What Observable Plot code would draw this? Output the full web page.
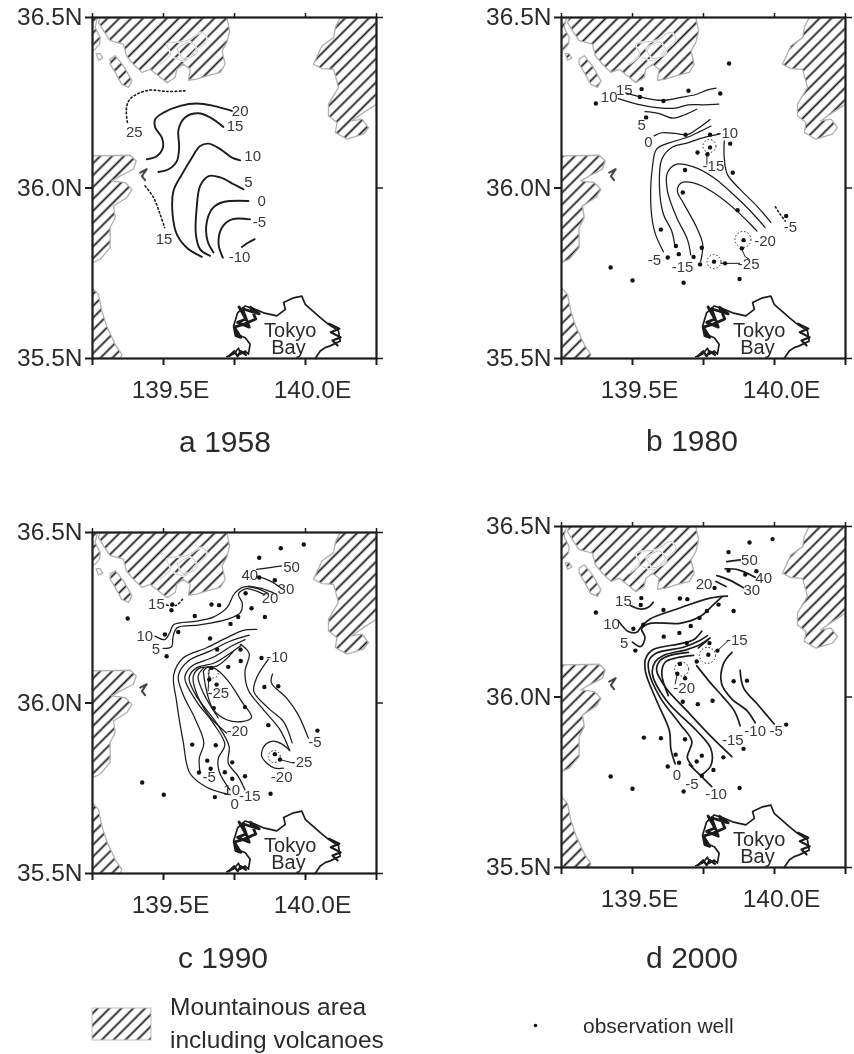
<!DOCTYPE html>
<html><head><meta charset="utf-8">
<script src="https://cdn.jsdelivr.net/npm/d3@7"></script>
<script src="https://cdn.jsdelivr.net/npm/@observablehq/plot@0.6"></script>
<style>
html,body{margin:0;padding:0;background:#fff}
#root{position:relative;width:854px;height:1054px;overflow:hidden;font-family:"Liberation Sans",Arial,sans-serif;color:#2b2b2b;filter:blur(.55px)}
#root svg{position:absolute;overflow:visible;background:transparent}
.t{position:absolute;white-space:nowrap;line-height:1}
</style></head><body><div id="root"></div>
<script>
// ---- shared geography (lon E, lat N)
const mtnNW=[[139.277,36.5],[139.723,36.5],[139.733,36.461],[139.723,36.427],[139.706,36.402],[139.717,36.363],[139.7,36.339],[139.653,36.329],[139.617,36.319],[139.588,36.316],[139.594,36.348],[139.57,36.363],[139.547,36.348],[139.541,36.324],[139.512,36.309],[139.482,36.329],[139.453,36.348],[139.424,36.339],[139.394,36.363],[139.369,36.388],[139.359,36.422],[139.312,36.432],[139.289,36.461],[139.271,36.485]];
const mtnSliver=[[139.25,36.5],[139.268,36.5],[139.259,36.471],[139.277,36.441],[139.275,36.422],[139.259,36.407],[139.25,36.402]];
const mtnIslet=[[139.263,36.394],[139.277,36.394],[139.286,36.381],[139.271,36.375]];
const mtnLong=[[139.312,36.378],[139.33,36.388],[139.359,36.358],[139.389,36.314],[139.377,36.295],[139.353,36.304],[139.33,36.339],[139.312,36.363]];
const mtnNE=[[140.122,36.5],[140.105,36.471],[140.099,36.441],[140.058,36.417],[140.028,36.363],[140.058,36.35],[140.099,36.348],[140.116,36.295],[140.081,36.246],[140.081,36.211],[140.111,36.192],[140.105,36.163],[140.146,36.143],[140.204,36.158],[140.222,36.177],[140.199,36.202],[140.163,36.197],[140.204,36.221],[140.25,36.246],[140.25,36.5]];
const mtnW=[[139.25,36.094],[139.383,36.096],[139.404,36.079],[139.394,36.055],[139.347,36.035],[139.318,36.021],[139.365,36.016],[139.389,35.996],[139.371,35.972],[139.324,35.947],[139.33,35.913],[139.312,35.884],[139.312,35.825],[139.277,35.791],[139.25,35.781]];
const mtnSW=[[139.25,35.707],[139.271,35.688],[139.283,35.639],[139.3,35.595],[139.33,35.541],[139.353,35.512],[139.347,35.5],[139.25,35.5]];
const volcanoRing=[[139.488,36.363],[139.524,36.392],[139.512,36.422],[139.582,36.432],[139.635,36.456],[139.653,36.436],[139.612,36.402],[139.576,36.373],[139.535,36.383]];
const volcanoRing2=[[139.548,36.408],[139.595,36.428],[139.619,36.398],[139.57,36.38],[139.548,36.408]];
const islet=[[139.418,36.045],[139.441,36.055],[139.424,36.035],[139.435,36.023]];
const coast=[[139.723,35.505],[139.747,35.513],[139.764,35.53],[139.772,35.513],[139.788,35.522],[139.799,35.513],[139.805,35.542],[139.788,35.561],[139.758,35.571],[139.747,35.595],[139.761,35.634],[139.788,35.654],[139.823,35.644],[139.852,35.634],[139.899,35.625],[139.929,35.644],[139.923,35.664],[139.958,35.678],[139.987,35.683],[139.999,35.659],[140.052,35.62],[140.081,35.6],[140.116,35.581],[140.122,35.551],[140.087,35.537],[140.069,35.532],[140.052,35.522],[140.034,35.5]];
const coastWest=[[139.766,35.651],[139.79,35.616],[139.761,35.606],[139.802,35.592],[139.778,35.646],[139.837,35.631],[139.807,35.65],[139.825,35.616],[139.782,35.6],[139.749,35.592],[139.755,35.567],[139.772,35.562],[139.749,35.592]];
const coastEast=[[140.083,35.602],[140.119,35.587],[140.089,35.577],[140.124,35.562],[140.095,35.553],[140.113,35.538]];
const coastSouth=[[139.731,35.507],[139.749,35.521],[139.761,35.507],[139.772,35.521],[139.79,35.511]];
const mountains=[mtnNW,mtnSliver,mtnIslet,mtnLong,mtnNE,mtnW,mtnSW];
const bayLabels=[["Tokyo",139.946,35.581],["Bay",139.94,35.532]];
const lonTicks=[139.25,139.5,139.75,140,140.25];
const latTicks=[35.5,36,36.5];
const lonNames=new Map([[139.5,"139.5E"],[140,"140.0E"]]);
const latNames=new Map([[35.5,"35.5N"],[36,"36.0N"],[36.5,"36.5N"]]);

// ---- 1958
const a20=[[139.441,36.084],[139.477,36.094],[139.498,36.119],[139.494,36.148],[139.471,36.177],[139.471,36.202],[139.5,36.221],[139.559,36.241],[139.617,36.248],[139.676,36.241],[139.741,36.226]];
const a15=[[139.482,36.047],[139.518,36.055],[139.547,36.079],[139.555,36.119],[139.553,36.172],[139.576,36.207],[139.623,36.219],[139.664,36.207],[139.711,36.179]];
const a10=[[139.635,35.798],[139.582,35.825],[139.547,35.864],[139.532,35.923],[139.535,35.991],[139.565,36.04],[139.6,36.089],[139.629,36.123],[139.659,36.13],[139.7,36.114],[139.741,36.089],[139.77,36.081]];
const a5=[[139.664,35.801],[139.629,35.82],[139.614,35.864],[139.617,35.943],[139.629,36.006],[139.659,36.035],[139.7,36.031],[139.747,36.011],[139.782,35.996]];
const a0=[[139.676,35.811],[139.655,35.845],[139.653,35.903],[139.676,35.943],[139.711,35.959],[139.799,35.962]];
const aM5=[[139.709,35.796],[139.694,35.835],[139.706,35.884],[139.741,35.908],[139.805,35.908]];
const aM10=[[139.776,35.827],[139.799,35.84],[139.821,35.85]];
const aDot25=[[139.576,36.285],[139.512,36.283],[139.453,36.287],[139.406,36.275],[139.377,36.255],[139.369,36.226],[139.374,36.187]];
const aDot15=[[139.435,36.006],[139.465,35.972],[139.488,35.923],[139.504,35.884]];
const aLabels=[["20",139.77,36.226],["15",139.752,36.18],["10",139.814,36.092],["5",139.799,36.016],["0",139.846,35.96],["-5",139.838,35.899],["-10",139.768,35.798],["25",139.397,36.163],["15",139.502,35.85]];

// ---- 1980
const bWells=[[139.84,36.365],[139.532,36.29],[139.526,36.267],[139.697,36.285],[139.809,36.277],[139.609,36.255],[139.371,36.248],[139.548,36.207],[139.687,36.156],[139.773,36.156],[139.844,36.13],[139.773,36.119],[139.729,36.104],[139.764,36.099],[139.685,36.053],[139.853,36.045],[139.677,35.987],[139.87,35.935],[140.041,35.918],[139.6,35.878],[139.891,35.847],[139.885,35.823],[139.744,35.825],[139.653,35.83],[139.663,35.806],[139.624,35.796],[139.715,35.798],[139.738,35.776],[139.787,35.784],[139.826,35.779],[139.423,35.767],[139.5,35.729],[139.68,35.722],[139.877,35.733]];
const b15=[[139.479,36.278],[139.538,36.265],[139.603,36.257],[139.667,36.265],[139.726,36.275],[139.762,36.287],[139.794,36.293]];
const b10=[[139.45,36.262],[139.515,36.246],[139.585,36.236],[139.65,36.234],[139.697,36.244],[139.75,36.244],[139.804,36.246]];
const b5=[[139.544,36.224],[139.591,36.219],[139.642,36.205],[139.682,36.214],[139.726,36.231]];
const b0=[[139.576,36.153],[139.603,36.162],[139.65,36.16],[139.691,36.156],[139.726,36.172],[139.773,36.201]];
const bM5=[[139.609,35.813],[139.579,35.869],[139.565,35.943],[139.57,36.06],[139.585,36.114],[139.632,36.133],[139.691,36.148],[139.738,36.166],[139.776,36.182]];
const bM10a=[[139.65,35.827],[139.638,35.874],[139.609,35.923],[139.595,36.001],[139.603,36.084],[139.638,36.119],[139.697,36.133],[139.75,36.148],[139.806,36.158]];
const bM10b=[[139.823,36.138],[139.823,36.089],[139.834,36.04],[139.879,35.996],[139.938,35.947],[139.987,35.899]];
const bM15=[[139.705,35.804],[139.693,35.85],[139.656,35.913],[139.623,35.991],[139.623,36.045],[139.656,36.07],[139.715,36.062],[139.785,36.031],[139.867,35.972],[139.92,35.928],[139.967,35.884]];
const bM20=[[139.74,35.784],[139.747,35.835],[139.726,35.884],[139.682,35.952],[139.658,35.991],[139.67,36.014],[139.715,36.015],[139.785,35.987],[139.867,35.933],[139.938,35.874]];
const bDotM5=[[140.003,35.945],[140.02,35.923],[140.038,35.903]];
const bLeadA=[[139.811,35.779],[139.877,35.779]];
const bLeadB=[[139.885,35.82],[139.897,35.798],[139.912,35.791]];
const bLeadC=[[139.762,36.097],[139.762,36.07]];
const bRings=[[139.771,36.123,6.5],[139.889,35.849,8],[139.787,35.784,7]];
const bLabels=[["10",139.418,36.265],["15",139.471,36.287],["5",139.532,36.185],["0",139.556,36.133],["-10",139.834,36.16],["-15",139.785,36.063],["-5",140.056,35.884],["-20",139.967,35.845],["-25",139.909,35.778],["-5",139.577,35.788],["-15",139.676,35.767]];

// ---- 1990
const cWells=[[139.913,36.454],[139.994,36.465],[139.837,36.426],[139.837,36.368],[139.892,36.36],[139.789,36.322],[139.531,36.289],[139.528,36.272],[139.669,36.289],[139.696,36.287],[139.81,36.278],[139.374,36.248],[139.61,36.255],[139.763,36.252],[139.857,36.252],[139.736,36.232],[139.552,36.208],[139.505,36.201],[139.664,36.189],[139.689,36.157],[139.771,36.157],[139.511,36.137],[139.772,36.123],[139.845,36.132],[139.728,36.106],[139.669,36.103],[139.661,36.069],[139.687,36.054],[139.855,36.047],[139.904,36.049],[139.677,35.985],[139.787,35.988],[139.869,35.935],[140.042,35.919],[139.601,35.878],[139.684,35.876],[139.892,35.85],[139.91,35.834],[139.654,35.831],[139.742,35.826],[139.666,35.807],[139.625,35.796],[139.716,35.797],[139.787,35.785],[139.742,35.778],[139.425,35.767],[139.501,35.731],[139.681,35.724],[139.877,35.734]];
const c50=[[139.828,36.392],[139.875,36.397],[139.916,36.402]];
const c40=[[139.828,36.372],[139.875,36.358],[139.916,36.336]];
const c30=[[139.798,36.343],[139.845,36.336],[139.898,36.319]];
const c10=[[139.47,36.196],[139.505,36.186],[139.522,36.206],[139.536,36.23],[139.616,36.24],[139.675,36.252],[139.722,36.278],[139.751,36.322],[139.781,36.34],[139.828,36.336],[139.869,36.321]];
const c5=[[139.499,36.16],[139.528,36.165],[139.534,36.196],[139.548,36.221],[139.628,36.229],[139.722,36.245],[139.771,36.265],[139.777,36.294],[139.764,36.319],[139.79,36.335],[139.828,36.328],[139.857,36.317]];
const cDot15=[[139.511,36.287],[139.546,36.287],[139.567,36.304]];
const c0=[[139.734,35.731],[139.652,35.753],[139.593,35.794],[139.569,35.888],[139.546,36.005],[139.536,36.083],[139.569,36.132],[139.652,36.162],[139.722,36.191],[139.781,36.213],[139.828,36.216]];
const cM5=[[139.628,35.799],[139.626,35.838],[139.642,35.883],[139.61,35.956],[139.569,36.025],[139.552,36.079],[139.587,36.123],[139.663,36.152],[139.734,36.181],[139.802,36.199]];
const cM10=[[139.734,35.745],[139.696,35.799],[139.693,35.838],[139.716,35.878],[139.675,35.941],[139.616,36.005],[139.575,36.074],[139.599,36.108],[139.675,36.134],[139.74,36.167],[139.787,36.186]];
const cM15=[[139.787,35.745],[139.763,35.785],[139.728,35.824],[139.731,35.873],[139.687,35.941],[139.616,36.02],[139.59,36.074],[139.616,36.103],[139.681,36.118],[139.745,36.152],[139.775,36.17]];
const cM20=[[139.722,35.912],[139.657,35.966],[139.61,36.044],[139.605,36.079],[139.628,36.103],[139.687,36.108],[139.745,36.15]];
const cM20b=[[139.693,35.956],[139.64,36.03],[139.622,36.079],[139.642,36.103]];
const cM25=[[139.64,36.093],[139.652,36.034],[139.675,35.981],[139.722,35.951],[139.781,35.946],[139.81,35.958],[139.775,36.005],[139.728,36.064],[139.687,36.098],[139.657,36.106],[139.64,36.093]];
const cR1=[[139.771,36.172],[139.802,36.144],[139.787,36.093],[139.798,36.039],[139.851,35.981],[139.91,35.922],[139.943,35.863]];
const cR2=[[139.869,36.128],[139.828,36.074],[139.818,36.034],[139.869,35.985],[139.922,35.946],[139.953,35.883]];
const cR3=[[139.884,36.085],[139.88,36.059],[139.933,36.015],[139.974,35.966],[140.01,35.897]];
const cLoop=[[139.945,35.86],[139.916,35.88],[139.886,35.888],[139.857,35.876],[139.845,35.846],[139.863,35.824],[139.892,35.809],[139.922,35.809]];
const cLeadA=[[139.91,35.834],[139.957,35.824]];
const cLeadB=[[139.661,36.103],[139.657,36.035]];
const cRings=[[139.89,35.843,6],[139.675,36.088,5]];
const cLabels=[["50",139.951,36.397],["40",139.804,36.376],["30",139.931,36.333],["20",139.875,36.306],["15",139.475,36.289],["10",139.434,36.196],["5",139.473,36.157],["-10",139.9,36.135],["-25",139.693,36.03],["-20",139.76,35.917],["-5",140.033,35.886],["-25",139.986,35.827],["-20",139.916,35.783],["-5",139.661,35.782],["10",139.74,35.745],["-15",139.804,35.726],["0",139.751,35.704]];

// ---- 2000
const dWells=[[139.912,36.453],[139.993,36.463],[139.838,36.425],[139.897,36.359],[139.838,36.371],[139.936,36.369],[139.789,36.32],[139.531,36.29],[139.529,36.27],[139.667,36.289],[139.693,36.287],[139.803,36.271],[139.856,36.252],[139.371,36.248],[139.609,36.255],[139.762,36.252],[139.736,36.232],[139.538,36.212],[139.503,36.2],[139.705,36.208],[139.665,36.188],[139.61,36.177],[139.691,36.158],[139.771,36.158],[139.799,36.136],[139.51,36.136],[139.767,36.124],[139.726,36.104],[139.667,36.097],[139.658,36.068],[139.685,36.055],[139.856,36.046],[139.903,36.048],[139.677,35.986],[139.73,35.979],[139.782,35.989],[140.041,35.919],[139.54,35.881],[139.6,35.879],[139.685,35.876],[139.891,35.848],[139.82,35.823],[139.652,35.831],[139.744,35.828],[139.664,35.807],[139.624,35.796],[139.726,35.811],[139.785,35.786],[139.744,35.769],[139.423,35.767],[139.5,35.731],[139.68,35.723],[139.877,35.733]];
const d50=[[139.832,36.397],[139.879,36.402]];
const d40=[[139.826,36.376],[139.873,36.373],[139.932,36.351]];
const d30=[[139.797,36.356],[139.844,36.342],[139.891,36.32]];
const d20=[[139.794,36.339],[139.829,36.324]];
const d15=[[139.493,36.268],[139.526,36.258],[139.556,36.263],[139.573,36.278]];
const d10=[[139.45,36.224],[139.485,36.192],[139.515,36.19],[139.532,36.207],[139.562,36.229],[139.667,36.261],[139.773,36.29],[139.834,36.296]];
const d5=[[139.5,36.161],[139.529,36.148],[139.544,36.175],[139.532,36.2],[139.562,36.216],[139.667,36.216],[139.738,36.236],[139.785,36.271],[139.814,36.293]];
const d0=[[139.65,35.804],[139.635,35.848],[139.63,35.901],[139.585,35.989],[139.546,36.073],[139.546,36.112],[139.573,36.139],[139.667,36.156],[139.715,36.168],[139.744,36.193]];
const dM5=[[139.712,35.796],[139.693,35.823],[139.709,35.87],[139.667,35.921],[139.597,35.999],[139.558,36.073],[139.558,36.107],[139.585,36.129],[139.679,36.146],[139.726,36.161],[139.764,36.18]];
const dM10a=[[139.779,35.737],[139.732,35.776],[139.7,35.802]];
const dM10b=[[139.744,35.772],[139.776,35.799],[139.776,35.848],[139.726,35.901],[139.62,35.989],[139.57,36.068],[139.579,36.102],[139.609,36.122],[139.691,36.139],[139.738,36.154],[139.773,36.173]];
const dM15=[[139.85,35.825],[139.785,35.877],[139.691,35.96],[139.62,36.024],[139.585,36.078],[139.597,36.107],[139.632,36.122],[139.697,36.131]];
const dM20=[[139.626,36.004],[139.603,36.068],[139.615,36.102],[139.656,36.115],[139.715,36.122]];
const dShort=[[139.732,36.144],[139.767,36.168]];
const dR1=[[139.726,36.092],[139.773,36.043],[139.82,35.999],[139.858,35.96],[139.879,35.916]];
const dR2=[[139.85,36.131],[139.82,36.097],[139.814,36.038],[139.85,35.994],[139.903,35.96],[139.932,35.924]];
const dR3=[[139.879,36.078],[139.891,36.027],[139.944,35.975],[139.999,35.921]];
const dLeadA=[[139.799,36.136],[139.838,36.166]];
const dLeadB=[[139.658,36.068],[139.65,36.038]];
const dRings=[[139.764,36.122,8],[139.673,36.082,7]];
const dLabels=[["-50",139.903,36.4],["40",139.962,36.349],["30",139.92,36.312],["20",139.752,36.332],["15",139.468,36.281],["10",139.426,36.214],["5",139.471,36.158],["-15",139.867,36.168],["-20",139.682,36.026],["-5",140.006,35.901],["-10",139.932,35.901],["-15",139.853,35.874],["0",139.656,35.771],["-5",139.709,35.745],["-10",139.794,35.714]];

// ---- panel specs
const panels=[
 {title:"a 1958",left:0,top:0,frameL:92,frameT:17,tx:225,ty:442,sw:1.9,wells:[],lines:[a20,a15,a10,a5,a0,aM5,aM10],dotted:[aDot25,aDot15],leads:[],rings:[],labels:aLabels},
 {title:"b 1980",left:427,top:0,frameL:134,frameT:17,tx:692,ty:441,sw:1.25,wells:bWells,lines:[b15,b10,b5,b0,bM5,bM10a,bM10b,bM15,bM20],dotted:[bDotM5],leads:[bLeadA,bLeadB,bLeadC],rings:bRings,labels:bLabels},
 {title:"c 1990",left:0,top:515,frameL:92,frameT:17,tx:223,ty:958,sw:1.25,wells:cWells,lines:[c50,c40,c30,c10,c5,c0,cM5,cM10,cM15,cM20,cM20b,cM25,cR1,cR2,cR3,cLoop],dotted:[cDot15],leads:[cLeadA,cLeadB],rings:cRings,labels:cLabels},
 {title:"d 2000",left:427,top:509,frameL:134,frameT:17,tx:692,ty:958,sw:1.7,wells:dWells,lines:[d50,d40,d30,d20,d15,d10,d5,d0,dM5,dM10a,dM10b,dM15,dM20,dShort,dR1,dR2,dR3],dotted:[],leads:[dLeadA,dLeadB],rings:dRings,labels:dLabels}
];
const ink="#1c1c1c";
const X=d=>d[0],Y=d=>d[1];
const root=document.getElementById("root");

// legend swatch also carries the shared hatch pattern
const legendSvg=d3.select(root).append("svg").attr("width",59).attr("height",32).style("left","92px").style("top","1008px");
const pat=legendSvg.append("defs").append("pattern").attr("id","hatch").attr("patternUnits","userSpaceOnUse").attr("width",8.4).attr("height",8.4).attr("patternTransform","rotate(-45)");
pat.append("line").attr("x1",0).attr("x2",8.4).attr("y1",4.2).attr("y2",4.2).attr("stroke",ink).attr("stroke-width",1.8);
legendSvg.append("rect").attr("width",59).attr("height",32).attr("fill","url(#hatch)").attr("stroke","#bbb");

for(const p of panels){
  const svg=Plot.plot({
    width:427,height:410,
    marginLeft:p.frameL,marginRight:427-p.frameL-284,marginTop:p.frameT,marginBottom:410-p.frameT-341,
    x:{domain:[139.25,140.25]},y:{domain:[35.5,36.5]},r:{type:"identity"},
    style:{fontFamily:'"Liberation Sans",Arial,sans-serif',fontSize:"24.5px",color:"#2b2b2b",background:"transparent"},
    marks:[
      ...mountains.map(m=>Plot.line([...m,m[0]],{x:X,y:Y,fill:"url(#hatch)",stroke:"#b0b0b0",strokeWidth:1.3,clip:"frame"})),
      ...[volcanoRing,volcanoRing2].flatMap(v=>[
        Plot.line(v,{x:X,y:Y,stroke:"#fff",strokeWidth:2,curve:"catmull-rom"}),
        Plot.line(v,{x:X,y:Y,stroke:"#999",strokeWidth:.6,curve:"catmull-rom"})]),
      Plot.line(islet,{x:X,y:Y,stroke:"#444",strokeWidth:2}),
      Plot.line(coast,{x:X,y:Y,stroke:ink,strokeWidth:1.7}),
      Plot.line(coastWest,{x:X,y:Y,stroke:ink,strokeWidth:2.8}),
      Plot.line(coastEast,{x:X,y:Y,stroke:ink,strokeWidth:2.2}),
      Plot.line(coastSouth,{x:X,y:Y,stroke:ink,strokeWidth:2.4}),
      ...p.lines.map(c=>Plot.line(c,{x:X,y:Y,stroke:ink,strokeWidth:p.sw,curve:"catmull-rom"})),
      ...p.dotted.map(c=>Plot.line(c,{x:X,y:Y,stroke:ink,strokeWidth:1.6,strokeDasharray:"1.6 2.6",curve:"catmull-rom"})),
      ...p.leads.map(c=>Plot.line(c,{x:X,y:Y,stroke:ink,strokeWidth:1})),
      Plot.dot(p.rings,{x:X,y:Y,r:d=>d[2],stroke:ink,strokeWidth:1,strokeDasharray:"1.5 2",fill:"none"}),
      Plot.dot(p.wells,{x:X,y:Y,r:2.2,fill:"#111",stroke:"none"}),
      Plot.text(p.labels,{x:d=>d[1],y:d=>d[2],text:d=>d[0],fontSize:15,fill:"#3a3a3a",textAnchor:"middle",lineAnchor:"middle"}),
      Plot.text(bayLabels,{x:d=>d[1],y:d=>d[2],text:d=>d[0],fontSize:20,fill:"#2b2b2b",textAnchor:"middle",lineAnchor:"middle"}),
      Plot.frame({stroke:ink,strokeWidth:2.2}),
      Plot.axisX(lonTicks,{anchor:"bottom",tickSize:7,tickPadding:15,tickFormat:d=>lonNames.get(d)??"",label:null,strokeWidth:2,stroke:ink,textStroke:"none"}),
      Plot.text(lonTicks.filter(d=>false),{x:d=>d,text:d=>d}),
      Plot.axisX(lonTicks,{anchor:"top",tickSize:5,tickFormat:()=>"",label:null,strokeWidth:1.5,stroke:ink}),
      Plot.axisY(latTicks,{anchor:"left",tickSize:7,tickPadding:3,tickFormat:d=>latNames.get(d),label:null,strokeWidth:2,stroke:ink}),
      Plot.axisY(latTicks,{anchor:"right",tickSize:6,tickFormat:()=>"",label:null,strokeWidth:1.5,stroke:ink})
    ]
  });
  // the reference sets its longitude labels a little right of their ticks
  d3.select(svg).selectAll('g[aria-label="x-axis tick label"] text').attr("dx",7);
  svg.style.left=p.left+"px";svg.style.top=p.top+"px";
  root.appendChild(svg);
  const t=document.createElement("div");t.className="t";t.textContent=p.title;
  t.style.cssText+=`left:${p.tx}px;top:${p.ty}px;transform:translate(-50%,-50%);font-size:30px;`;
  root.appendChild(t);
}

// well symbol in the legend
const wellKey=Plot.plot({width:20,height:20,margin:0,x:{domain:[0,1],axis:null},y:{domain:[0,1],axis:null},marks:[Plot.dot([{k:.5}],{x:"k",y:"k",r:1.8,fill:"#111"})]});
wellKey.style.left="525px";wellKey.style.top="1015px";root.appendChild(wellKey);
for(const [txt,l,tp,fs] of [["Mountainous area",170,1007,24.5],["including volcanoes",170,1040,24.5],["observation well",583,1025,21]]){
  const t=document.createElement("div");t.className="t";t.textContent=txt;
  t.style.cssText+=`left:${l}px;top:${tp}px;transform:translateY(-50%);font-size:${fs}px;`;
  root.appendChild(t);
}
</script></body></html>
